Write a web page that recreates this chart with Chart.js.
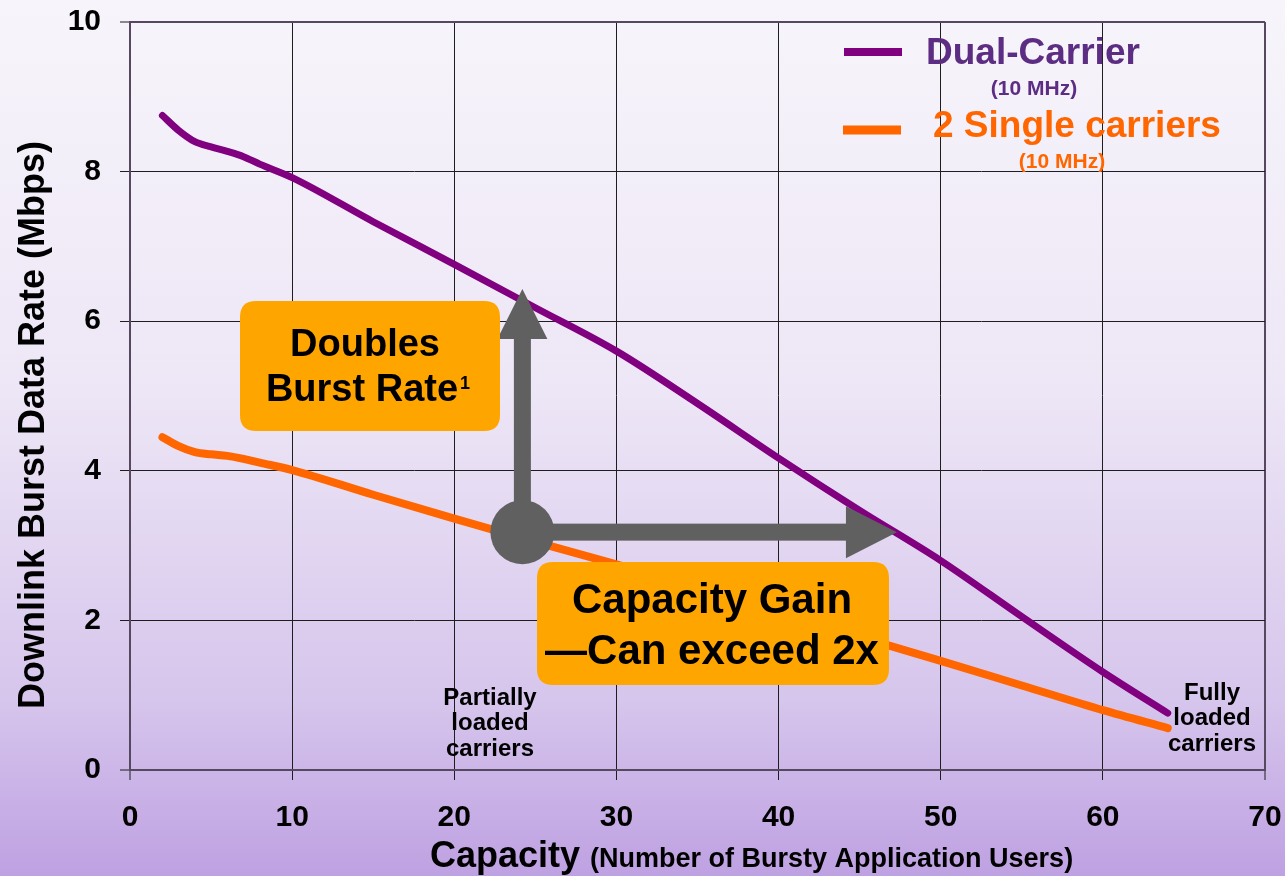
<!DOCTYPE html>
<html>
<head>
<meta charset="utf-8">
<script src="https://cdn.jsdelivr.net/npm/chart.js@4.4.1/dist/chart.umd.min.js"></script>
<style>
html, body { margin: 0; padding: 0; background: #e6ddf2; }
#wrap { width: 1285px; height: 876px; }
</style>
</head>
<body>
<div id="wrap"><canvas id="capacityChart" width="1285" height="876"></canvas></div>
<script>
// Données
const capacityUsers = [2, 3, 4, 5, 6, 7, 8, 10, 15, 20, 25, 30, 35, 40, 45, 50, 55, 60, 64];
const dualCarrierRate = [8.75, 8.55, 8.4, 8.33, 8.27, 8.2, 8.1, 7.92, 7.33, 6.76, 6.18, 5.6, 4.9, 4.17, 3.47, 2.8, 2.05, 1.31, 0.76];
const singleCarriersRate = [4.45, 4.33, 4.25, 4.22, 4.2, 4.16, 4.11, 4.01, 3.68, 3.36, 3.05, 2.75, 2.43, 2.1, 1.78, 1.46, 1.13, 0.8, 0.56];
const xTicks = [0, 10, 20, 30, 40, 50, 60, 70];
const yTicks = [0, 2, 4, 6, 8, 10];

const FONT = '"Liberation Sans", Arial, sans-serif';

function toPoints(xs, ys) {
    return xs.map((x, i) => ({ x: x, y: ys[i] }));
}

function roundRect(ctx, x, y, w, h, r) {
    ctx.beginPath();
    ctx.moveTo(x + r, y);
    ctx.lineTo(x + w - r, y);
    ctx.quadraticCurveTo(x + w, y, x + w, y + r);
    ctx.lineTo(x + w, y + h - r);
    ctx.quadraticCurveTo(x + w, y + h, x + w - r, y + h);
    ctx.lineTo(x + r, y + h);
    ctx.quadraticCurveTo(x, y + h, x, y + h - r);
    ctx.lineTo(x, y + r);
    ctx.quadraticCurveTo(x, y, x + r, y);
    ctx.closePath();
}

// Fond dégradé lavande
const backgroundPlugin = {
    id: 'background',
    beforeDraw(chart) {
        const ctx = chart.ctx;
        const g = ctx.createLinearGradient(0, 0, 0, chart.height);
        g.addColorStop(0, '#f7f5fb');
        g.addColorStop(0.45, '#ede6f6');
        g.addColorStop(0.8, '#d6c5ec');
        g.addColorStop(1, '#bea1e2');
        ctx.save();
        ctx.fillStyle = g;
        ctx.fillRect(0, 0, chart.width, chart.height);
        ctx.restore();
    }
};

// Titres, légende, flèches et encadrés
const annotationPlugin = {
    id: 'annotations',
    afterDatasetsDraw(chart) {
        const ctx = chart.ctx;
        const xs = chart.scales.x;
        const ys = chart.scales.y;
        ctx.save();

        // Titre axe Y
        ctx.save();
        ctx.translate(34, 425);
        ctx.rotate(-Math.PI / 2);
        ctx.fillStyle = '#000';
        ctx.font = 'bold 36px ' + FONT;
        ctx.textAlign = 'center';
        ctx.textBaseline = 'middle';
        ctx.fillText('Downlink Burst Data Rate (Mbps)', 0, 0);
        ctx.restore();

        // Titre axe X
        ctx.fillStyle = '#000';
        ctx.textAlign = 'left';
        ctx.textBaseline = 'alphabetic';
        ctx.font = 'bold 36px ' + FONT;
        ctx.fillText('Capacity', 430, 867);
        const w = ctx.measureText('Capacity').width;
        ctx.font = 'bold 27px ' + FONT;
        ctx.fillText('(Number of Bursty Application Users)', 430 + w + 10, 867);

        // Légende
        ctx.lineCap = 'butt';
        ctx.strokeStyle = '#800080';
        ctx.lineWidth = 8;
        ctx.beginPath(); ctx.moveTo(844, 52); ctx.lineTo(902, 52); ctx.stroke();
        ctx.strokeStyle = '#ff6600';
        ctx.lineWidth = 9;
        ctx.beginPath(); ctx.moveTo(843, 130); ctx.lineTo(901, 130); ctx.stroke();

        ctx.textBaseline = 'middle';
        ctx.fillStyle = '#5c2d82';
        ctx.font = 'bold 37px ' + FONT;
        ctx.textAlign = 'left';
        ctx.fillText('Dual-Carrier', 926, 54);
        ctx.font = 'bold 21px ' + FONT;
        ctx.textAlign = 'center';
        ctx.fillText('(10 MHz)', 1034, 89);
        ctx.fillStyle = '#ff6600';
        ctx.font = 'bold 37px ' + FONT;
        ctx.textAlign = 'left';
        ctx.fillText('2 Single carriers', 933, 127);
        ctx.font = 'bold 21px ' + FONT;
        ctx.textAlign = 'center';
        ctx.fillText('(10 MHz)', 1062, 162);

        // Flèches grises
        const ox = xs.getPixelForValue(24.2);
        const oy = ys.getPixelForValue(3.18);
        const upY = ys.getPixelForValue(6.43);
        const rightX = xs.getPixelForValue(47.3);
        ctx.fillStyle = '#606060';
        ctx.fillRect(ox - 8.5, upY + 48, 17, oy - upY - 48);
        ctx.beginPath();
        ctx.moveTo(ox, upY);
        ctx.lineTo(ox + 25, upY + 50);
        ctx.lineTo(ox - 25, upY + 50);
        ctx.closePath();
        ctx.fill();
        ctx.fillRect(ox, oy - 8.5, rightX - ox - 50, 17);
        ctx.beginPath();
        ctx.moveTo(rightX, oy);
        ctx.lineTo(rightX - 51, oy - 26);
        ctx.lineTo(rightX - 51, oy + 26);
        ctx.closePath();
        ctx.fill();
        ctx.beginPath();
        ctx.arc(ox, oy, 32, 0, Math.PI * 2);
        ctx.fill();

        // Encadrés orange
        ctx.fillStyle = '#ffa500';
        roundRect(ctx, 240, 301, 260, 130, 16);
        ctx.fill();
        roundRect(ctx, 537, 562, 352, 123, 16);
        ctx.fill();

        ctx.fillStyle = '#000';
        ctx.textAlign = 'center';
        ctx.textBaseline = 'middle';
        ctx.font = 'bold 38px ' + FONT;
        ctx.fillText('Doubles', 365, 346);
        const br = 'Burst Rate';
        const brw = ctx.measureText(br).width;
        ctx.font = 'bold 18px ' + FONT;
        const supw = ctx.measureText('1').width;
        const startX = 368 - (brw + supw + 2) / 2;
        ctx.textAlign = 'left';
        ctx.font = 'bold 38px ' + FONT;
        ctx.fillText(br, startX, 391);
        ctx.font = 'bold 18px ' + FONT;
        ctx.fillText('1', startX + brw + 2, 384);

        ctx.textAlign = 'center';
        ctx.font = 'bold 42px ' + FONT;
        ctx.fillText('Capacity Gain', 712, 601);
        ctx.fillText('\u2014Can exceed 2x', 712, 652);

        // Notes de charge
        ctx.font = 'bold 24px ' + FONT;
        ['Partially', 'loaded', 'carriers'].forEach((t, i) => {
            ctx.fillText(t, 490, 698 + i * 25.5);
        });
        ['Fully', 'loaded', 'carriers'].forEach((t, i) => {
            ctx.fillText(t, 1212, 693 + i * 25.5);
        });

        ctx.restore();
    }
};

const gridColor = (c) => (c.index === 0 || c.tick.value === c.scale.max) ? '#55485f' : '#1e1e1e';
const gridWidth = (c) => (c.index === 0 || c.tick.value === c.scale.max) ? 2 : 1;

new Chart(document.getElementById('capacityChart'), {
    type: 'line',
    data: {
        datasets: [{
            label: 'Dual-Carrier (10 MHz)',
            data: toPoints(capacityUsers, dualCarrierRate),
            borderColor: '#800080',
            borderWidth: 7,
            borderCapStyle: 'round',
            cubicInterpolationMode: 'monotone',
            pointRadius: 0,
            fill: false
        }, {
            label: '2 Single carriers (10 MHz)',
            data: toPoints(capacityUsers, singleCarriersRate),
            borderColor: '#ff6600',
            borderWidth: 8,
            borderCapStyle: 'round',
            cubicInterpolationMode: 'monotone',
            pointRadius: 0,
            fill: false
        }]
    },
    options: {
        responsive: false,
        animation: false,
        layout: {
            padding: { left: 0, right: 20, top: 22, bottom: 0 }
        },
        plugins: {
            legend: { display: false },
            tooltip: { enabled: false }
        },
        scales: {
            x: {
                type: 'linear',
                min: 0,
                max: 70,
                afterFit: (scale) => {
                    scale.height = 106;
                    scale.paddingLeft = 0;
                    scale.paddingRight = 0;
                },
                afterBuildTicks: (scale) => { scale.ticks = xTicks.map(v => ({ value: v })); },
                ticks: {
                    padding: 20,
                    color: '#000',
                    font: { family: FONT, size: 30, weight: 'bold' },
                    maxRotation: 0
                },
                grid: {
                    color: gridColor,
                    lineWidth: gridWidth,
                    tickLength: 10,
                    tickColor: '#1e1e1e',
                    tickWidth: 1
                },
                border: { color: '#55485f', width: 2 }
            },
            y: {
                min: 0,
                max: 10,
                afterFit: (scale) => {
                    scale.width = 130;
                    scale.paddingTop = 0;
                    scale.paddingBottom = 0;
                },
                afterBuildTicks: (scale) => { scale.ticks = yTicks.map(v => ({ value: v })); },
                ticks: {
                    padding: 19,
                    color: '#000',
                    font: { family: FONT, size: 30, weight: 'bold' }
                },
                grid: {
                    color: gridColor,
                    lineWidth: gridWidth,
                    tickLength: 10,
                    tickColor: '#1e1e1e',
                    tickWidth: 1
                },
                border: { color: '#55485f', width: 2 }
            }
        }
    },
    plugins: [backgroundPlugin, annotationPlugin]
});
</script>
</body>
</html>
